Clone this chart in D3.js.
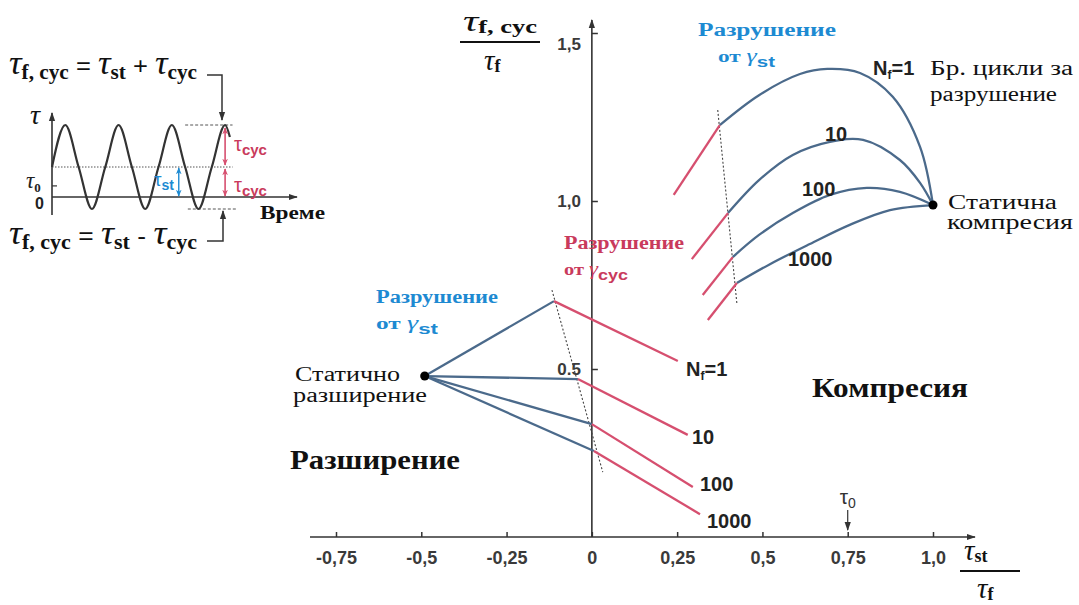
<!DOCTYPE html>
<html>
<head>
<meta charset="utf-8">
<script src="https://cdn.jsdelivr.net/npm/d3@7"></script>
<style>
body { margin: 0; background: #fff; }
svg { display: block; }
.serif { font-family: "Liberation Serif", "Times New Roman", "DejaVu Serif", serif; }
.sans { font-family: "Liberation Sans", Arial, sans-serif; }
</style>
</head>
<body>
<div id="chart"></div>
<script>

// axis ticks
var xTicks = [-0.75, -0.5, -0.25, 0, 0.25, 0.5, 0.75, 1.0];
var xTickLabels = ["-0,75", "-0,5", "-0,25", "0", "0,25", "0,5", "0,75", "1,0"];
var yTicks = [0.5, 1.0, 1.5];
var yTickLabels = ["0.5", "1,0", "1,5"];
var tau0 = 0.75;

// number of cycles to failure, one entry per curve
var cycles = ["1", "10", "100", "1000"];

// static points (x = tau_st/tau_f, y = tau_f,cyc/tau_f)
var staticComp = [1.0, 0.988];
var staticExt = [-0.49, 0.479];

// compression: blue part = failure by gamma_st
var compBlue = [
	[[0.375, 1.226], [0.49, 1.315], [0.61, 1.378], [0.69, 1.393], [0.786, 1.381], [0.882, 1.31], [0.962, 1.161], [1.0, 0.988]],
	[[0.399, 0.964], [0.49, 1.062], [0.589, 1.137], [0.698, 1.176], [0.795, 1.182], [0.903, 1.122], [0.962, 1.054], [1.0, 0.988]],
	[[0.413, 0.833], [0.49, 0.899], [0.589, 0.964], [0.698, 1.018], [0.806, 1.039], [0.903, 1.027], [1.0, 0.988]],
	[[0.425, 0.756], [0.522, 0.812], [0.639, 0.872], [0.756, 0.929], [0.874, 0.973], [1.0, 0.988]]
];
// compression: red part = failure by gamma_cyc
var compRedStart = [[0.240, 1.018], [0.293, 0.827], [0.325, 0.720], [0.340, 0.646]];

// extension: blue lines from static point to break point, red lines after it
var extBreak = [[-0.111, 0.702], [-0.041, 0.470], [0.0, 0.336], [0.006, 0.256]];
var extRedEnd = [[0.252, 0.524], [0.281, 0.304], [0.296, 0.149], [0.317, 0.068]];

// boundary between the two failure modes (dotted)
var compBoundary = [[0.369, 1.271], [0.425, 0.696]];
var extBoundary = [[-0.117, 0.735], [0.032, 0.193]];

// inset: cyclic shear stress vs time (time in periods, tau in units)
var waveT = [0, 0.25, 0.5, 0.75, 1, 1.25, 1.5, 1.75, 2, 2.25, 2.5, 2.75, 3, 3.25, 3.34];
var waveV = [1, 2.4, 1, -0.4, 1, 2.4, 1, -0.4, 1, 2.4, 1, -0.4, 1, 2.4, 2.0];
var tauSt = 1, tauPeak = 2.4, tauTrough = -0.4, tauZero = 0.37;


var W = 1079, H = 605;
var blue = "#4b6a8b", red = "#d64f6f", blueText = "#1d8ad2", redText = "#c93a5c";

var svg = d3.select("#chart").append("svg")
	.attr("width", W).attr("height", H)
	.attr("class", "sans");

var defs = svg.append("defs");
defs.append("marker").attr("id", "arr")
	.attr("viewBox", "0 0 10 10").attr("refX", 9).attr("refY", 5)
	.attr("markerWidth", 9).attr("markerHeight", 9).attr("markerUnits", "userSpaceOnUse")
	.attr("orient", "auto-start-reverse")
	.append("path").attr("d", "M0,1.5 L10,5 L0,8.5 Z").attr("fill", "#333");
[["arrRed", red], ["arrBlue", blueText]].forEach(function(m) {
	defs.append("marker").attr("id", m[0])
		.attr("viewBox", "0 0 10 10").attr("refX", 9).attr("refY", 5)
		.attr("markerWidth", 7).attr("markerHeight", 7).attr("markerUnits", "userSpaceOnUse")
		.attr("orient", "auto-start-reverse")
		.append("path").attr("d", "M0,1 L10,5 L0,9 L3,5 Z").attr("fill", m[1]);
});

// main scales
var x = d3.scaleLinear().domain([-0.75, 1.0]).range([336, 933]);
var y = d3.scaleLinear().domain([0, 1.5]).range([537, 33]);

// axes
var xAxis = svg.append("g").attr("transform", "translate(0," + y(0) + ")")
	.call(d3.axisBottom(x).tickValues(xTicks).tickFormat(function(d, i) { return xTickLabels[i]; })
		.tickSize(-5).tickPadding(14));
var yAxis = svg.append("g").attr("transform", "translate(" + x(0) + ",0)")
	.call(d3.axisLeft(y).tickValues(yTicks).tickFormat(function(d, i) { return yTickLabels[i]; })
		.tickSize(-6).tickPadding(11));
[xAxis, yAxis].forEach(function(a) {
	a.select(".domain").remove();
	a.selectAll("line").attr("stroke", "#333").attr("stroke-width", 1.5);
	a.selectAll("text").attr("font-family", null).attr("class", "sans")
		.attr("font-weight", "bold").attr("fill", "#3a3a3a");
});
xAxis.selectAll("text").attr("font-size", 18);
yAxis.selectAll("text").attr("font-size", 17).attr("dy", function(d) { return d == 1.5 ? "0.95em" : "0.32em"; });

svg.append("line").attr("x1", 310).attr("x2", 975).attr("y1", y(0)).attr("y2", y(0))
	.attr("stroke", "#333").attr("stroke-width", 1.6).attr("marker-end", "url(#arr)");
svg.append("line").attr("x1", x(0)).attr("x2", x(0)).attr("y1", y(0)).attr("y2", 20)
	.attr("stroke", "#333").attr("stroke-width", 1.6).attr("marker-end", "url(#arr)");

// tau_0 marker
svg.append("line").attr("x1", x(tau0)).attr("x2", x(tau0)).attr("y1", 510).attr("y2", 530)
	.attr("stroke", "#333").attr("stroke-width", 1.2).attr("marker-end", "url(#arr)");
var t0 = svg.append("text").attr("x", x(tau0) - 8).attr("y", 504).attr("font-size", 21).attr("fill", "#333");
t0.append("tspan").text("τ");
t0.append("tspan").attr("font-size", 14).attr("dy", 4).text("0");

var line = d3.line().x(function(d) { return x(d[0]); }).y(function(d) { return y(d[1]); });
var smooth = d3.line().curve(d3.curveCatmullRom.alpha(0.5))
	.x(function(d) { return x(d[0]); }).y(function(d) { return y(d[1]); });

// dotted boundaries
[compBoundary, extBoundary].forEach(function(b) {
	svg.append("path").attr("d", line(b)).attr("fill", "none")
		.attr("stroke", "#444").attr("stroke-width", 1.1).attr("stroke-dasharray", "2,2");
});

// compression curves
compBlue.forEach(function(c, i) {
	svg.append("path").attr("d", smooth(c)).attr("fill", "none")
		.attr("stroke", blue).attr("stroke-width", 2.3);
	svg.append("path").attr("d", line([compRedStart[i], c[0]])).attr("fill", "none")
		.attr("stroke", red).attr("stroke-width", 2.3);
});

// extension lines
extBreak.forEach(function(b, i) {
	svg.append("path").attr("d", line([staticExt, b])).attr("fill", "none")
		.attr("stroke", blue).attr("stroke-width", 2.3);
	svg.append("path").attr("d", line([b, extRedEnd[i]])).attr("fill", "none")
		.attr("stroke", red).attr("stroke-width", 2.3);
});

[staticComp, staticExt].forEach(function(p) {
	svg.append("circle").attr("cx", x(p[0])).attr("cy", y(p[1])).attr("r", 4.5).attr("fill", "#000");
});

// cycle labels
function nLabel(px, py, i) {
	var t = svg.append("text").attr("x", px).attr("y", py)
		.attr("font-size", 20).attr("font-weight", "bold").attr("fill", "#222");
	if (i == 0) {
		t.append("tspan").text("N");
		t.append("tspan").attr("font-size", 12).attr("dy", 4).text("f");
		t.append("tspan").attr("dy", -4).text("=" + cycles[i]);
	} else {
		t.text(cycles[i]);
	}
}
var compLabelPos = [[873, 75], [825, 141], [802, 196], [788, 266]];
var extLabelPos = [[686, 376], [692, 444], [700, 491], [707, 528]];
cycles.forEach(function(c, i) {
	nLabel(compLabelPos[i][0], compLabelPos[i][1], i);
	nLabel(extLabelPos[i][0], extLabelPos[i][1], i);
});

// text annotations (width)
function txt(px, py, s, size, w, opt) {
	opt = opt || {};
	return svg.append("text").attr("class", "serif").attr("x", px).attr("y", py).attr("font-size", size)
		.attr("font-weight", opt.weight || "normal")
		.attr("fill", opt.fill || "#111")
		.attr("textLength", w).attr("lengthAdjust", "spacingAndGlyphs")
		.text(s);
}
function gammaLine(px, py, sub, color, w) {
	var t = svg.append("text").attr("class", "serif").attr("x", px).attr("y", py).attr("fill", color)
		.attr("font-weight", "bold").attr("font-size", 17)
		.attr("textLength", w).attr("lengthAdjust", "spacingAndGlyphs");
	t.append("tspan").text("от  ");
	t.append("tspan").attr("font-style", "italic").attr("font-weight", "normal").attr("font-size", 19).text("γ");
	t.append("tspan").attr("class", "sans").attr("font-size", 15).attr("dy", 5).text(sub);
}

txt(698, 36, "Разрушение", 18, 138, {weight: "bold", fill: blueText});
gammaLine(718, 62, "st", blueText, 57);
txt(564, 249, "Разрушение", 18, 120, {weight: "bold", fill: redText});
gammaLine(564, 275, "cyc", redText, 64);
txt(376, 303, "Разрушение", 18, 122, {weight: "bold", fill: blueText});
gammaLine(376, 329, "st", blueText, 62);

txt(295, 381, "Статично", 20, 105);
txt(293, 402, "разширение", 20, 134);
txt(290, 469, "Разширение", 27, 170, {weight: "bold"});
txt(812, 397, "Компресия", 27, 156, {weight: "bold"});
txt(948, 209, "Статична", 20, 109);
txt(947, 229, "компресия", 20, 126);
txt(930, 75, "Бр. цикли за", 20, 143);
txt(930, 101, "разрушение", 20, 127);

// tau fraction helper
function tauText(px, py, sub, size, subSize) {
	var t = svg.append("text").attr("class", "serif").attr("x", px).attr("y", py).attr("fill", "#111");
	t.append("tspan").attr("font-style", "italic").attr("font-size", size).text("τ");
	t.append("tspan").attr("font-weight", "bold").attr("font-size", subSize).attr("dy", 2).text(sub);
	return t;
}
// y axis label
tauText(463, 31, "f, cyc", 29, 18).attr("textLength", 74).attr("lengthAdjust", "spacingAndGlyphs");
svg.append("line").attr("x1", 460).attr("x2", 540).attr("y1", 42).attr("y2", 42).attr("stroke", "#111").attr("stroke-width", 2);
tauText(484, 70, "f", 29, 18);
// x axis label
tauText(964, 560, "st", 29, 18);
svg.append("line").attr("x1", 960).attr("x2", 1020).attr("y1", 571).attr("y2", 571).attr("stroke", "#111").attr("stroke-width", 2);
tauText(977, 598, "f", 29, 18);

// ---------- inset ----------
var ix = d3.scaleLinear().domain([0, 4.6]).range([52, 297]);
var iy = d3.scaleLinear().domain([0, 2.4]).range([197, 125]);
var ins = svg.append("g");

ins.append("line").attr("x1", ix(0)).attr("x2", ix(0)).attr("y1", iy(-0.6)).attr("y2", 113)
	.attr("stroke", "#333").attr("stroke-width", 1.6).attr("marker-end", "url(#arr)");
ins.append("line").attr("x1", ix(0)).attr("x2", ix(4.6)).attr("y1", iy(0)).attr("y2", iy(0))
	.attr("stroke", "#333").attr("stroke-width", 1.6).attr("marker-end", "url(#arr)");
ins.append("line").attr("x1", ix(0)).attr("x2", ix(0) + 5).attr("y1", iy(tauZero)).attr("y2", iy(tauZero))
	.attr("stroke", "#333").attr("stroke-width", 1.2);

// mean level and extreme levels
ins.append("line").attr("x1", ix(0)).attr("x2", ix(3.39)).attr("y1", iy(tauSt)).attr("y2", iy(tauSt))
	.attr("stroke", "#555").attr("stroke-width", 1.2).attr("stroke-dasharray", "1.5,1.5");
ins.append("line").attr("x1", ix(2.5)).attr("x2", ix(3.39)).attr("y1", iy(tauPeak)).attr("y2", iy(tauPeak))
	.attr("stroke", "#555").attr("stroke-width", 1).attr("stroke-dasharray", "3,2");
ins.append("line").attr("x1", ix(2.55)).attr("x2", ix(3.47)).attr("y1", iy(tauTrough)).attr("y2", iy(tauTrough))
	.attr("stroke", "#555").attr("stroke-width", 1).attr("stroke-dasharray", "3,2");

var wave = d3.line().curve(d3.curveMonotoneX)
	.x(function(d, i) { return ix(waveT[i]); }).y(function(d) { return iy(d); });
ins.append("path").attr("d", wave(waveV)).attr("fill", "none")
	.attr("stroke", "#333").attr("stroke-width", 2.2);

// amplitude arrows
var tArr = 3.25, tSt = 2.38;
ins.append("line").attr("x1", ix(tArr)).attr("x2", ix(tArr)).attr("y1", iy(tauPeak) + 3).attr("y2", iy(tauSt) - 2)
	.attr("stroke", red).attr("stroke-width", 1.6)
	.attr("marker-start", "url(#arrRed)").attr("marker-end", "url(#arrRed)");
ins.append("line").attr("x1", ix(tArr)).attr("x2", ix(tArr)).attr("y1", iy(tauSt) + 2).attr("y2", iy(0) - 1)
	.attr("stroke", red).attr("stroke-width", 1.6)
	.attr("marker-start", "url(#arrRed)").attr("marker-end", "url(#arrRed)");
ins.append("line").attr("x1", ix(tSt)).attr("x2", ix(tSt)).attr("y1", iy(tauSt) + 1).attr("y2", iy(0) - 1)
	.attr("stroke", blueText).attr("stroke-width", 1.4)
	.attr("marker-start", "url(#arrBlue)").attr("marker-end", "url(#arrBlue)");

function insTau(px, py, sub, color, size, subSize) {
	var t = ins.append("text").attr("x", px).attr("y", py).attr("fill", color);
	t.append("tspan").attr("font-size", size).text("τ");
	t.append("tspan").attr("font-size", subSize).attr("font-weight", "bold").attr("dy", 4).text(sub);
	return t;
}
insTau(234, 151, "cyc", redText, 20, 15);
insTau(234, 192, "cyc", redText, 20, 15);
insTau(154, 186, "st", blueText, 19, 14);
var it0 = insTau(26, 188, "0", "#222", 23, 13).attr("class", "serif");
it0.select("tspan").attr("font-style", "italic");
ins.append("text").attr("x", 35).attr("y", 209).attr("font-size", 16).attr("font-weight", "bold").attr("fill", "#222").text("0");
ins.append("text").attr("class", "serif").attr("x", 30).attr("y", 124).attr("font-size", 28).attr("font-style", "italic")
	.attr("fill", "#111").text("τ");
ins.append("text").attr("class", "serif").attr("x", 260).attr("y", 219).attr("font-size", 19).attr("font-weight", "bold")
	.attr("fill", "#111").attr("textLength", 65).attr("lengthAdjust", "spacingAndGlyphs").text("Време");

// formulas
function formula(py, op) {
	var t = ins.append("text").attr("class", "serif").attr("x", 9).attr("y", py).attr("fill", "#111")
		.attr("textLength", 188).attr("lengthAdjust", "spacingAndGlyphs");
	var parts = [["τ", "f, cyc"], [" = ", null], ["τ", "st"], [op, null], ["τ", "cyc"]];
	parts.forEach(function(p) {
		if (p[1] === null) {
			t.append("tspan").attr("font-size", 24).attr("dy", -5).attr("class", "sans").text(p[0]);
		} else {
			t.append("tspan").attr("font-size", 33).attr("font-style", "italic").text(p[0]);
			t.append("tspan").attr("font-size", 20).attr("font-weight", "bold").attr("dy", 5).text(p[1]);
		}
	});
	return t;
}
formula(74, " + ");
formula(244, " - ");

// formula arrows
ins.append("path").attr("d", "M207,75 H222 V120").attr("fill", "none")
	.attr("stroke", "#333").attr("stroke-width", 1.5).attr("marker-end", "url(#arr)");
ins.append("path").attr("d", "M207,241 H223 V211").attr("fill", "none")
	.attr("stroke", "#333").attr("stroke-width", 1.5).attr("marker-end", "url(#arr)");

</script>
</body>
</html>
